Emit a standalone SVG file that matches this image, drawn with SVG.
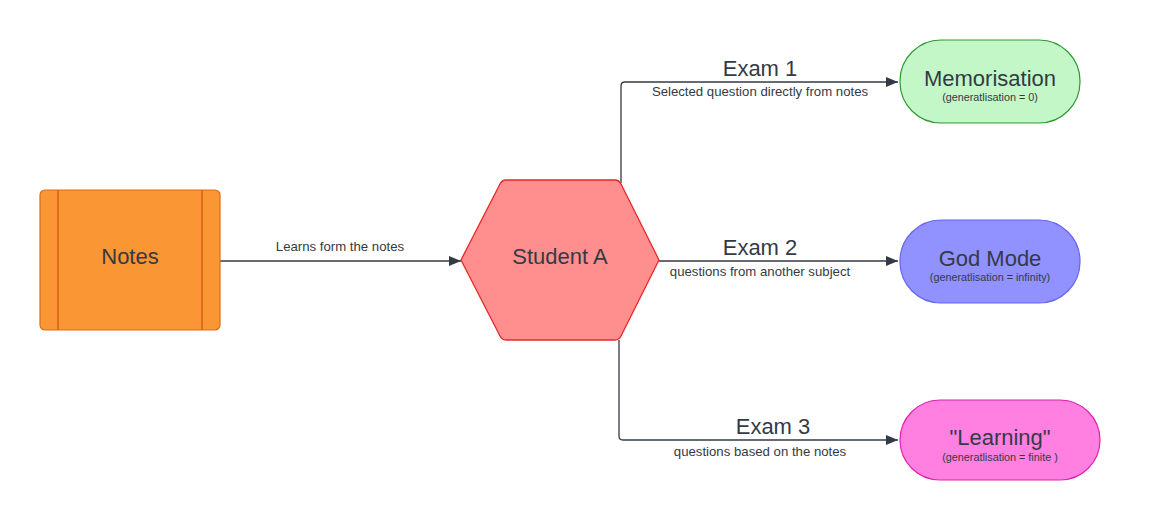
<svg xmlns="http://www.w3.org/2000/svg" width="1160" height="523" viewBox="0 0 1160 523">
<defs>
<marker id="arr" viewBox="0 0 12 10" refX="12" refY="5" markerWidth="12" markerHeight="10" markerUnits="userSpaceOnUse" orient="auto"><path d="M0,0 L12,5 L0,10 z" fill="#333a45"/></marker>
<style>
text{font-family:"Liberation Sans",Arial,sans-serif;fill:#333a45;text-anchor:middle}
.big{font-size:22px}
.lbl{font-size:22px}
.sm{font-size:13.2px}
.xs{font-size:10.8px}
.con{fill:none;stroke:#333a45;stroke-width:1.3}
</style>
</defs>
<rect width="1160" height="523" fill="#ffffff"/>
<g id="connectors">
<path class="con" d="M220,261 H461" marker-end="url(#arr)"/>
<path class="con" d="M621,183 V86 Q621,82 625,82 H898" marker-end="url(#arr)"/>
<path class="con" d="M659,261 H898" marker-end="url(#arr)"/>
<path class="con" d="M619,340 V436 Q619,440 623,440 H898" marker-end="url(#arr)"/>
<text class="sm" x="340" y="251">Learns form the notes</text>
<text class="lbl" x="760" y="76">Exam 1</text>
<text class="sm" x="760" y="96">Selected question directly from notes</text>
<text class="lbl" x="760" y="255">Exam 2</text>
<text class="sm" x="760" y="276">questions from another subject</text>
<text class="lbl" x="773" y="434">Exam 3</text>
<text class="sm" x="760" y="456">questions based on the notes</text>
</g>
<g id="notes">
<rect x="40" y="190" width="180" height="140" rx="5" fill="#fb9634" stroke="#dd6a18" stroke-width="1.2"/>
<line x1="58" y1="190" x2="58" y2="330" stroke="#d2530f" stroke-width="1.2"/>
<line x1="202" y1="190" x2="202" y2="330" stroke="#d2530f" stroke-width="1.2"/>
<text class="big" x="130" y="264">Notes</text>
</g>
<g id="studentA">
<path d="M461,260 L500,184 Q502,180 506,180 L615,180 Q619,180 621,184 L659,260 L621,336 Q619,340 615,340 L506,340 Q502,340 500,336 Z" fill="#ff8f8f" stroke="#e62828" stroke-width="1.3" stroke-linejoin="round"/>
<text class="big" x="560" y="264">Student A</text>
</g>
<g id="memorisation">
<rect x="900" y="40" width="180" height="83" rx="41" fill="#c3f7c8" stroke="#2f9a2f" stroke-width="1.2"/>
<text class="big" x="990" y="86">Memorisation</text>
<text class="xs" x="990" y="101">(generatlisation = 0)</text>
</g>
<g id="godmode">
<rect x="900" y="220" width="180" height="83" rx="41" fill="#9191ff" stroke="#6464ee" stroke-width="1.2"/>
<text class="big" x="990" y="266">God Mode</text>
<text class="xs" x="990" y="281">(generatlisation = infinity)</text>
</g>
<g id="learning">
<rect x="900" y="400" width="200" height="80" rx="40" fill="#ff80e0" stroke="#e020b0" stroke-width="1.2"/>
<text class="big" x="1000" y="445">"Learning"</text>
<text class="xs" x="1000" y="461">(generatlisation = finite )</text>
</g>
</svg>
